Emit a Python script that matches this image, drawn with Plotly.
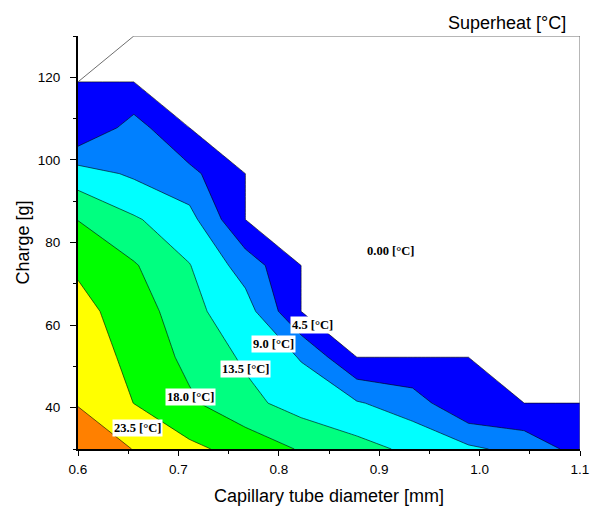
import plotly.graph_objects as go

# Capillary tube inner diameter [mm] (grid columns)
diameter = [0.6, 0.6556, 0.7111, 0.7667, 0.8222, 0.8778, 0.9333, 0.9889, 1.0444, 1.1]
# Refrigerant charge [g] (grid rows)
charge = [30.0, 41.11, 52.22, 63.33, 74.44, 85.56, 96.67, 107.78, 118.89, 130.0]

# Evaporator outlet superheat [°C]: one row per charge, one value per diameter
superheat = [
    [29.4, 26.9, 23.5, 20.87, 17.6, 15.12, 12.5, 9.85, 7.49, 2.83],
    [26.8, 22.45, 18.68, 14.8, 11.6, 9.4, 6.71, 0.3, 0.0, 0.0],
    [25.2, 21.3, 16.85, 12.81, 8.7, 0.0, 0.0, 0.0, 0.0, 0.0],
    [23.56, 20.87, 14.63, 11.04, 0.0, 0.0, 0.0, 0.0, 0.0, 0.0],
    [22.0, 18.41, 13.66, 7.0, 0.0, 0.0, 0.0, 0.0, 0.0, 0.0],
    [17.9, 14.05, 10.51, 0.0, 0.0, 0.0, 0.0, 0.0, 0.0, 0.0],
    [11.0, 8.31, 5.70, 0.0, 0.0, 0.0, 0.0, 0.0, 0.0, 0.0],
    [0.12, 6.37, 0.0, 0.0, 0.0, 0.0, 0.0, 0.0, 0.0, 0.0],
    [0.0, 0.0, 0.0, 0.0, 0.0, 0.0, 0.0, 0.0, 0.0, 0.0],
    [0.0, 0.0, 0.0, 0.0, 0.0, 0.0, 0.0, 0.0, 0.0, 0.0],
]

# Contour levels
level_start, level_end, level_step = 0.0, 27.0, 4.5

# Contour line labels
label_text = ["0.00 [°C]", "4.5 [°C]", "9.0 [°C]", "13.5 [°C]", "18.0 [°C]", "23.5 [°C]"]
label_pos = [(0.9116, 77.9), (0.8336, 60.0), (0.7952, 55.4),
             (0.7668, 49.35), (0.7120, 42.65), (0.6593, 35.0)]

# Band colours, from below the first level up to above the last level
band_colors = ["#FFFFFF", "#0000FF", "#0080FF", "#00FFFF",
               "#00FF80", "#00FF00", "#FFFF00", "#FF8000"]

n = len(band_colors) - 1
colorscale = []
for k, c in enumerate(band_colors):
    lo = max(0.0, (2 * k - 1) / (2 * n))
    hi = min(1.0, (2 * k + 1) / (2 * n))
    colorscale.append([lo, c])
    colorscale.append([hi, c])

fig = go.Figure()

fig.add_trace(go.Contour(
    x=diameter, y=charge, z=superheat,
    autocontour=False,
    contours=dict(start=level_start, end=level_end, size=level_step,
                  coloring="fill", showlabels=False),
    colorscale=colorscale,
    showscale=False,
    line=dict(color="black", width=0.6, smoothing=0),
    hoverinfo="skip",
))

# Outline of the computed domain (upper-left corner not covered)
fig.add_trace(go.Scatter(
    x=[diameter[0], diameter[1], diameter[-1], diameter[-1]],
    y=[charge[-2], charge[-1], charge[-1], charge[0]],
    mode="lines",
    line=dict(color="#6E6E6E", width=1),
    hoverinfo="skip",
    showlegend=False,
))

annotations = []
for txt, (lx, ly) in zip(label_text, label_pos):
    annotations.append(dict(
        x=lx, y=ly, xref="x", yref="y", text=txt, showarrow=False,
        font=dict(family="Liberation Serif", size=12.5, color="black", weight="bold"),
        bgcolor="white", borderpad=1,
    ))

title_font = dict(family="Liberation Sans", size=18, color="black")
annotations += [
    dict(x=1, y=1, xref="paper", yref="paper", xanchor="right", yanchor="middle",
         yshift=13, xshift=-12, text="Superheat [°C]", showarrow=False, font=title_font),
    dict(x=0.5, y=0, xref="paper", yref="paper", xanchor="center", yanchor="middle",
         yshift=-47, text="Capillary tube diameter [mm]", showarrow=False, font=title_font),
    dict(x=0, y=0.5, xref="paper", yref="paper", xanchor="center", yanchor="middle",
         xshift=-56, text="Charge [g]", textangle=-90, showarrow=False, font=title_font),
]

tick_font = dict(family="Liberation Sans", size=13.5, color="black")

fig.update_layout(
    width=595, height=509,
    margin=dict(l=78, r=15, t=36, b=60, autoexpand=False),
    paper_bgcolor="white", plot_bgcolor="white",
    showlegend=False,
    annotations=annotations,
    xaxis=dict(
        range=[0.6, 1.1], dtick=0.1, tick0=0.6, tickformat=".1f",
        ticks="outside", ticklen=5, tickwidth=1, tickcolor="black",
        minor=dict(dtick=0.05, ticks="outside", ticklen=3, tickcolor="black"),
        showline=True, linecolor="black", linewidth=2,
        showgrid=False, zeroline=False, tickfont=tick_font,
        automargin=False, ticklabelstandoff=2,
    ),
    yaxis=dict(
        range=[30, 130], dtick=20, tick0=0,
        ticks="outside", ticklen=6, tickwidth=1, tickcolor="black",
        minor=dict(dtick=10, ticks="outside", ticklen=3, tickcolor="black"),
        showline=True, linecolor="black", linewidth=2,
        showgrid=False, zeroline=False, tickfont=tick_font,
        automargin=False, ticklabelstandoff=7,
    ),
)

fig.write_html("out.html")
